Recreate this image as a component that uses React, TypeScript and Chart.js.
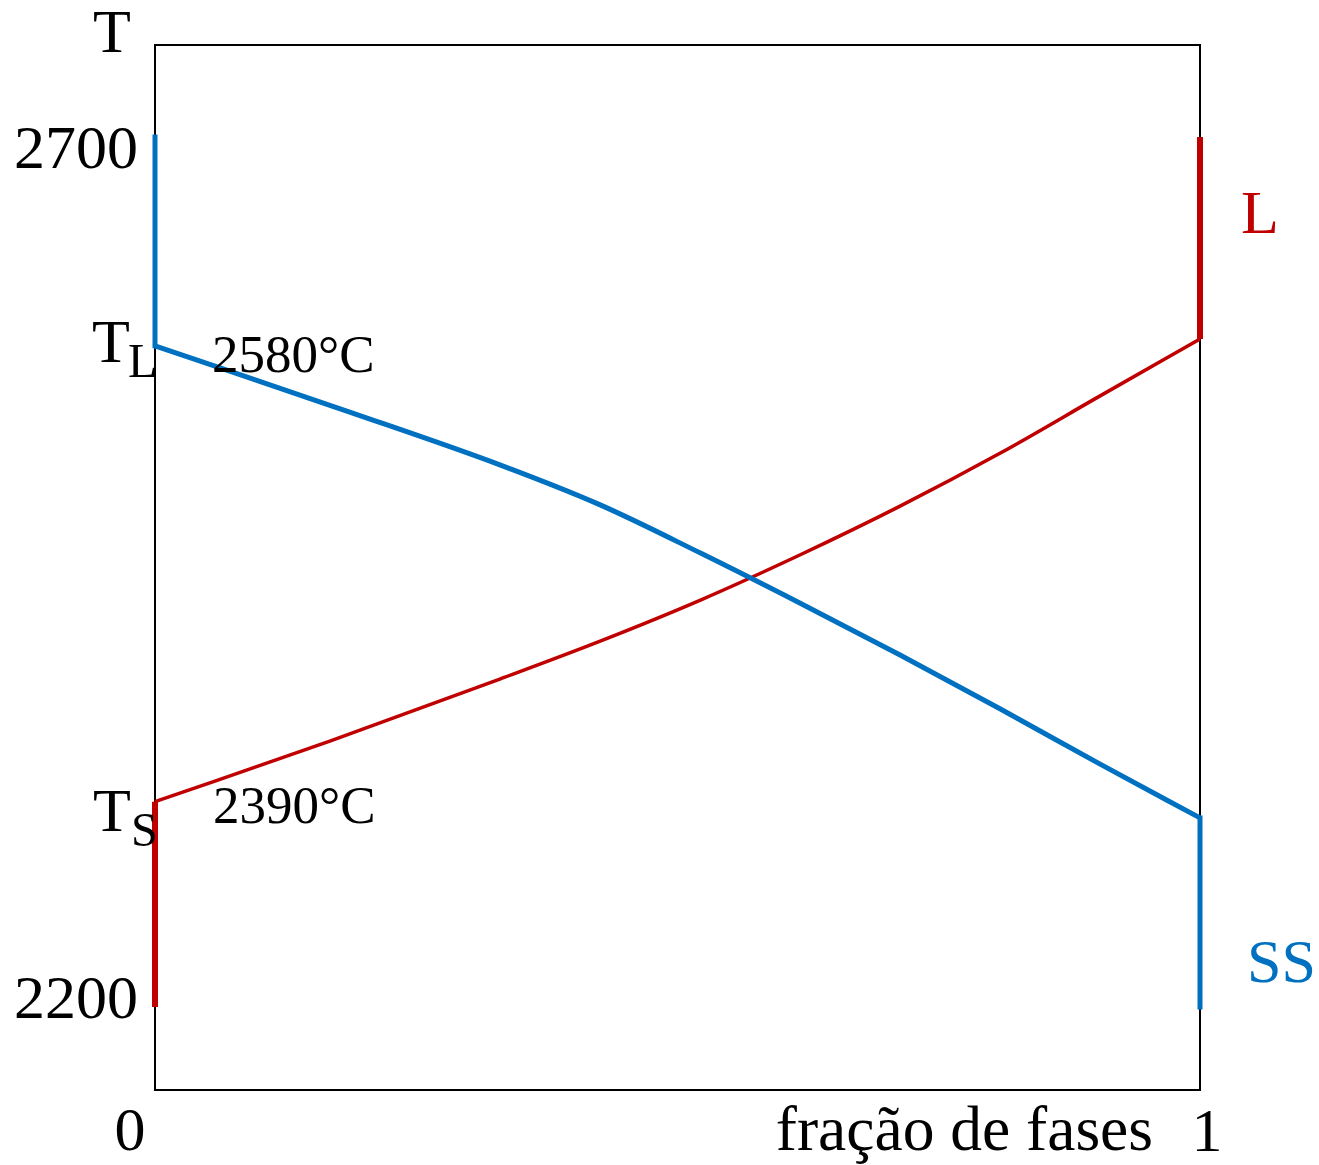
import React, { useEffect, useRef } from "react";
import { Chart, registerables } from "chart.js";

Chart.register(...registerables);

// Phase-fraction diagram (schematic temperature axis)
const yTickValues = [2700, 2200];
const yTickLabels = ["2700", "2200"];
const xTickValues = [0, 1];
const xTickLabels = ["0", "1"];
const xTitle = "fração de fases";
const yTitle = "T";

const liquidusT = 2580;
const solidusT = 2318;
const liquidusLabel = "2580°C";
const solidusLabel = "2390°C";

// SS (solid solution) fraction curve – blue
const ssLeftT = [2700, 2580];
const ssCurveX = [0, 0.187, 0.33, 0.426, 0.522, 0.617, 0.713, 0.809, 0.904, 1];
const ssCurveT = [2580, 2541.8, 2511.6, 2488.6, 2460.9, 2432.2, 2402.3, 2371.3, 2339.7, 2308.7];
const ssRightT = [2308.7, 2200];

// L (liquid) fraction curve – red
const lLeftT = [2200, 2318];
const lCurveX = [0, 0.168, 0.33, 0.426, 0.522, 0.617, 0.713, 0.809, 0.904, 1];
const lCurveT = [2318, 2352.9, 2388.5, 2410.3, 2433.9, 2459.8, 2487.9, 2518.4, 2551.1, 2583.9];
const lRightT = [2583.9, 2700];

const BLUE = "#0070C0";
const RED = "#C00000";
const SERIF = '"Liberation Serif", "DejaVu Serif", serif';

const pts = (xs: number[], ys: number[]) => xs.map((x, i) => ({ x, y: ys[i] }));
const vert = (x: number, ys: number[]) => ys.map((y) => ({ x, y }));

const labelsPlugin = {
  id: "labels",
  beforeDatasetsDraw(chart: any) {
    const { ctx, chartArea } = chart;
    ctx.save();
    ctx.strokeStyle = "#000";
    ctx.lineWidth = 2;
    ctx.strokeRect(chartArea.left, chartArea.top, chartArea.right - chartArea.left, chartArea.bottom - chartArea.top);
    ctx.restore();
  },
  afterDraw(chart: any) {
    const { ctx, chartArea } = chart;
    const xs = chart.scales.x;
    const ys = chart.scales.y;
    ctx.save();
    ctx.fillStyle = "#000";
    ctx.textBaseline = "alphabetic";
    const big = `62px ${SERIF}`;
    const mid = `53px ${SERIF}`;
    const sub = `48px ${SERIF}`;

    // y title
    ctx.font = big;
    ctx.textAlign = "center";
    ctx.fillText(yTitle, chartArea.left - 43, chartArea.top + 7);

    // y tick labels
    ctx.textAlign = "right";
    const tickOffsets = [31, 11];
    yTickValues.forEach((v, i) => {
      ctx.fillText(yTickLabels[i], chartArea.left - 17, ys.getPixelForValue(v) + tickOffsets[i]);
    });

    // T_L and T_S
    const x0 = xs.getPixelForValue(0);
    const yl = ys.getPixelForValue(liquidusT);
    const yS = ys.getPixelForValue(solidusT);
    ctx.textAlign = "left";
    ctx.font = big;
    ctx.fillText("T", x0 - 63, yl + 16);
    ctx.fillText("T", x0 - 62, yS + 29);
    ctx.font = sub;
    ctx.fillText("L", x0 - 27, yl + 31);
    ctx.fillText("S", x0 - 24, yS + 44);

    ctx.font = mid;
    ctx.fillText(liquidusLabel, x0 + 57, yl + 26);
    ctx.fillText(solidusLabel, x0 + 58, yS + 21);

    // x tick labels
    ctx.font = big;
    ctx.textAlign = "center";
    ctx.fillText(xTickLabels[0], xs.getPixelForValue(xTickValues[0]) - 25, chartArea.bottom + 60);
    ctx.fillText(xTickLabels[1], xs.getPixelForValue(xTickValues[1]) + 7, chartArea.bottom + 61);
    ctx.font = `63.5px ${SERIF}`;
    ctx.textAlign = "right";
    ctx.fillText(xTitle, xs.getPixelForValue(1) - 47, chartArea.bottom + 60);

    // phase labels
    ctx.font = big;
    ctx.textAlign = "left";
    ctx.fillStyle = RED;
    ctx.fillText("L", chartArea.right + 41, ys.getPixelForValue(2700) + 96);
    ctx.fillStyle = BLUE;
    ctx.fillText("SS", chartArea.right + 47, ys.getPixelForValue(2200) - 25);
    ctx.restore();
  },
};

export default function App() {
  const ref = useRef<HTMLCanvasElement | null>(null);
  useEffect(() => {
    if (!ref.current) return;
    const common = { pointRadius: 0, fill: false, clip: false as any };
    const chart = new Chart(ref.current, {
      type: "line",
      data: {
        datasets: [
          { ...common, label: "SS left", data: vert(0, ssLeftT), borderColor: BLUE, borderWidth: 5, tension: 0, borderCapStyle: "square" },
          { ...common, label: "SS", data: pts(ssCurveX, ssCurveT), borderColor: BLUE, borderWidth: 5, cubicInterpolationMode: "monotone" },
          { ...common, label: "SS right", data: vert(1, ssRightT), borderColor: BLUE, borderWidth: 5, tension: 0, borderCapStyle: "square" },
          { ...common, label: "L left", data: vert(0, lLeftT), borderColor: RED, borderWidth: 6, tension: 0 },
          { ...common, label: "L", data: pts(lCurveX, lCurveT), borderColor: RED, borderWidth: 3.5, cubicInterpolationMode: "monotone" },
          { ...common, label: "L right", data: vert(1, lRightT), borderColor: RED, borderWidth: 6, tension: 0 },
        ],
      },
      options: {
        animation: false,
        responsive: false,
        maintainAspectRatio: false,
        layout: { padding: { left: 155, top: 45, right: 119, bottom: 75 } },
        plugins: { legend: { display: false }, tooltip: { enabled: false } },
        scales: {
          x: { type: "linear", min: 0, max: 1, display: false },
          y: { type: "linear", min: 2152.3, max: 2752.9, display: false },
        },
      },
      plugins: [labelsPlugin],
    });
    return () => chart.destroy();
  }, []);
  return (
    <div style={{ position: "fixed", left: 0, top: 0, width: 1319, height: 1165, background: "#fff" }}>
      <canvas ref={ref} width={1319} height={1165} style={{ width: 1319, height: 1165 }} />
    </div>
  );
}
